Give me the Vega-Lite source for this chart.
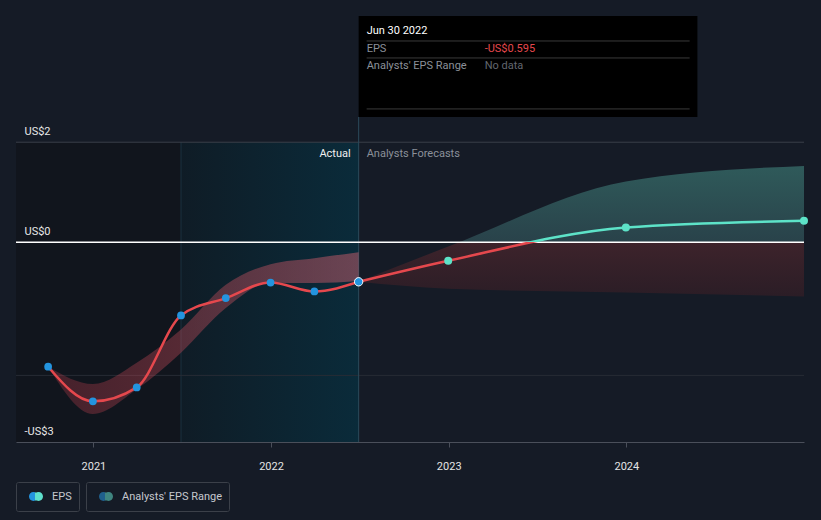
{
  "$schema": "https://vega.github.io/schema/vega-lite/v6.json",
  "width": 788,
  "height": 433,
  "autosize": {"type": "none"},
  "padding": {"left": 16, "top": 9, "right": 17, "bottom": 78},
  "background": "#151b26",
  "config": {"view": {"stroke": null}, "font": "Roboto", "text": {"font": "Roboto"}, "axis": {"titleOpacity": 0}},
  "datasets": {
    "eps": [
      {"date": "2020-09-30", "eps": -1.87, "kind": "actual"},
      {"date": "2020-12-31", "eps": -2.39, "kind": "actual"},
      {"date": "2021-03-31", "eps": -2.18, "kind": "actual"},
      {"date": "2021-06-30", "eps": -1.10, "kind": "actual"},
      {"date": "2021-09-30", "eps": -0.84, "kind": "actual"},
      {"date": "2021-12-31", "eps": -0.606, "kind": "actual"},
      {"date": "2022-03-31", "eps": -0.74, "kind": "actual"},
      {"date": "2022-06-30", "eps": -0.595, "kind": "latest"},
      {"date": "2022-12-31", "eps": -0.28, "kind": "forecast"},
      {"date": "2023-12-31", "eps": 0.22, "kind": "forecast"},
      {"date": "2024-12-31", "eps": 0.32, "kind": "forecast"}
    ],
    "pastRange": [
      {"date": "2020-09-30", "lo": -1.87, "hi": -1.87},
      {"date": "2020-12-31", "lo": -2.58, "hi": -2.13},
      {"date": "2021-03-31", "lo": -2.21, "hi": -1.81},
      {"date": "2021-06-30", "lo": -1.66, "hi": -1.31},
      {"date": "2021-09-30", "lo": -0.99, "hi": -0.64},
      {"date": "2021-12-31", "lo": -0.61, "hi": -0.33},
      {"date": "2022-03-31", "lo": -0.615, "hi": -0.24},
      {"date": "2022-06-30", "lo": -0.585, "hi": -0.15}
    ],
    "fcRange": [
      {"date": "2022-06-30", "lo": -0.595, "hi": -0.595},
      {"date": "2022-12-31", "lo": -0.70, "hi": -0.066},
      {"date": "2023-12-31", "lo": -0.756, "hi": 0.91},
      {"date": "2024-12-31", "lo": -0.816, "hi": 1.145}
    ],
    "hover": [
      {"date": "2022-06-30", "title": "Jun 30 2022", "eps": "-US$0.595", "range": "No data"}
    ],
    "periods": [
      {"start": "2020-07-26", "end": "2021-06-30", "period": "past"},
      {"start": "2021-06-30", "end": "2022-06-30", "period": "actual"}
    ]
  },
  "layer": [
    {
      "data": {"name": "periods"},
      "transform": [{"filter": "datum.period == 'past'"}],
      "mark": {"type": "rect", "color": "#11151d"},
      "encoding": {
        "x": {"field": "start", "type": "temporal", "title": null,
          "scale": {"domain": [{"year": 2020, "month": 7, "date": 26}, {"year": 2024, "month": 12, "date": 31}]},
          "axis": {"values": [{"year": 2021}, {"year": 2022}, {"year": 2023}, {"year": 2024}], "format": "%Y", "title": null, "grid": false,
            "domainColor": "#4a4f5a", "tickColor": "#4a4f5a", "tickSize": 5, "labelColor": "#e4e4e4", "labelFontSize": 11,
            "labelPadding": 13, "labelFlush": false, "zindex": 1}},
        "x2": {"field": "end"},
        "y": {"datum": -3, "type": "quantitative", "title": null,
          "scale": {"domain": [-3, 3.5], "nice": false, "zero": false},
          "axis": {"values": [-3, 0, 1.5], "labelExpr": "datum.value == 1.5 ? 'US$2' : datum.value == 0 ? 'US$0' : '-US$3'",
            "title": null, "grid": false, "domain": false, "ticks": false, "tickSize": 0, "labelAlign": "left", "labelPadding": -8,
            "labelBaseline": "alphabetic", "labelOffset": -8, "labelColor": "#e8e8e8", "labelFontSize": 11, "labelFlush": false, "zindex": 1}},
        "y2": {"datum": 1.5}
      }
    },
    {
      "data": {"name": "periods"},
      "transform": [{"filter": "datum.period == 'actual'"}],
      "mark": {"type": "rect", "color": {"gradient": "linear", "x1": 0, "y1": 0, "x2": 1, "y2": 0,
        "stops": [{"offset": 0, "color": "#0f1c26"}, {"offset": 1, "color": "#0a2b3a"}]}},
      "encoding": {
        "x": {"field": "start", "type": "temporal", "title": null},
        "x2": {"field": "end"},
        "y": {"datum": -3, "type": "quantitative", "title": null},
        "y2": {"datum": 1.5}
      }
    },
    {
      "data": {"name": "periods"},
      "transform": [{"filter": "datum.period == 'actual'"}],
      "mark": {"type": "rule", "color": "#1c3340", "strokeWidth": 1},
      "encoding": {
        "x": {"field": "start", "type": "temporal", "title": null},
        "y": {"datum": -3, "type": "quantitative", "title": null},
        "y2": {"datum": 1.5}
      }
    },
    {
      "data": {"values": [{}]},
      "mark": {"type": "rule", "color": "#3a3f48", "strokeWidth": 1},
      "encoding": {"y": {"datum": 1.5, "type": "quantitative", "title": null}}
    },
    {
      "data": {"values": [{}]},
      "mark": {"type": "rule", "color": "#272c35", "strokeWidth": 1},
      "encoding": {"y": {"datum": -2, "type": "quantitative", "title": null}}
    },
    {
      "data": {"name": "hover"},
      "mark": {"type": "rule", "color": "#2a4a5a", "strokeWidth": 1},
      "encoding": {
        "x": {"field": "date", "type": "temporal", "title": null},
        "y": {"datum": -3, "type": "quantitative", "title": null},
        "y2": {"datum": 1.879}
      }
    },
    {
      "data": {"name": "pastRange"},
      "mark": {"type": "area", "interpolate": "monotone", "color": {"gradient": "linear", "x1": 0, "y1": 0, "x2": 1, "y2": 0,
        "stops": [{"offset": 0, "color": "rgba(190,60,75,0.30)"}, {"offset": 1, "color": "rgba(225,100,115,0.45)"}]}},
      "encoding": {
        "x": {"field": "date", "type": "temporal", "title": null},
        "y": {"field": "hi", "type": "quantitative", "title": null},
        "y2": {"field": "lo"}
      }
    },
    {
      "data": {"name": "fcRange"},
      "mark": {"type": "area", "interpolate": "monotone", "color": {"gradient": "linear", "x1": 0, "y1": 0, "x2": 0, "y2": 1,
        "stops": [{"offset": 0, "color": "#2f5a5a"}, {"offset": 0.584, "color": "#29424a"}, {"offset": 0.584, "color": "#3d232b"}, {"offset": 1, "color": "#2b1d26"}]}},
      "encoding": {
        "x": {"field": "date", "type": "temporal", "title": null},
        "y": {"field": "hi", "type": "quantitative", "title": null},
        "y2": {"field": "lo"}
      }
    },
    {
      "data": {"values": [{}]},
      "mark": {"type": "rule", "color": "#ffffff", "strokeWidth": 1.5},
      "encoding": {"y": {"datum": 0, "type": "quantitative", "title": null}}
    },
    {
      "data": {"name": "eps"},
      "transform": [{"filter": "datum.kind != 'forecast'"}],
      "mark": {"type": "line", "interpolate": "monotone", "color": "#e5484d", "strokeWidth": 2.5},
      "encoding": {
        "x": {"field": "date", "type": "temporal", "title": null},
        "y": {"field": "eps", "type": "quantitative", "title": null}
      }
    },
    {
      "data": {"name": "eps"},
      "transform": [{"filter": "datum.kind != 'actual'"}],
      "mark": {"type": "line", "interpolate": "monotone", "strokeWidth": 2.5, "color": {"gradient": "linear", "x1": 0, "y1": 0, "x2": 0, "y2": 1,
        "stops": [{"offset": 0, "color": "#5de3c8"}, {"offset": 0.35, "color": "#5de3c8"}, {"offset": 0.35, "color": "#e5484d"}, {"offset": 1, "color": "#e5484d"}]}},
      "encoding": {
        "x": {"field": "date", "type": "temporal", "title": null},
        "y": {"field": "eps", "type": "quantitative", "title": null}
      }
    },
    {
      "data": {"name": "eps"},
      "transform": [{"filter": "datum.kind == 'actual'"}],
      "mark": {"type": "point", "filled": true, "opacity": 1, "color": "#2394df", "size": 60},
      "encoding": {
        "x": {"field": "date", "type": "temporal", "title": null},
        "y": {"field": "eps", "type": "quantitative", "title": null}
      }
    },
    {
      "data": {"name": "eps"},
      "transform": [{"filter": "datum.kind == 'latest'"}],
      "mark": {"type": "point", "filled": true, "opacity": 1, "fill": "#2394df", "stroke": "#ffffff", "strokeWidth": 1, "size": 70},
      "encoding": {
        "x": {"field": "date", "type": "temporal", "title": null},
        "y": {"field": "eps", "type": "quantitative", "title": null}
      }
    },
    {
      "data": {"name": "eps"},
      "transform": [{"filter": "datum.kind == 'forecast'"}],
      "mark": {"type": "point", "filled": true, "opacity": 1, "color": "#5de3c8", "size": 64},
      "encoding": {
        "x": {"field": "date", "type": "temporal", "title": null},
        "y": {"field": "eps", "type": "quantitative", "title": null}
      }
    },
    {
      "data": {"name": "hover"},
      "mark": {"type": "text", "text": "Actual", "align": "right", "baseline": "middle", "dx": -8, "dy": 12, "fontSize": 11, "color": "#f0f0f0"},
      "encoding": {
        "x": {"field": "date", "type": "temporal", "title": null},
        "y": {"datum": 1.5, "type": "quantitative", "title": null}
      }
    },
    {
      "data": {"name": "hover"},
      "mark": {"type": "text", "text": "Analysts Forecasts", "align": "left", "baseline": "middle", "dx": 8, "dy": 12, "fontSize": 11, "color": "#8b9099"},
      "encoding": {
        "x": {"field": "date", "type": "temporal", "title": null},
        "y": {"datum": 1.5, "type": "quantitative", "title": null}
      }
    },
    {
      "data": {"name": "hover"},
      "mark": {"type": "rect", "color": "#000000"},
      "encoding": {
        "x": {"field": "date", "type": "temporal", "title": null},
        "x2": {"datum": {"year": 2024, "month": 5, "date": 26}},
        "y": {"datum": 3.394, "type": "quantitative", "title": null},
        "y2": {"datum": 1.879}
      }
    },
    {
      "data": {"name": "hover"},
      "mark": {"type": "rule", "color": "#3a3a3a", "strokeWidth": 1, "xOffset": 8},
      "encoding": {
        "x": {"field": "date", "type": "temporal", "title": null},
        "x2": {"datum": {"year": 2024, "month": 5, "date": 10}},
        "y": {"datum": 3.02, "type": "quantitative", "title": null}
      }
    },
    {
      "data": {"name": "hover"},
      "mark": {"type": "rule", "color": "#3a3a3a", "strokeWidth": 1, "xOffset": 8},
      "encoding": {
        "x": {"field": "date", "type": "temporal", "title": null},
        "x2": {"datum": {"year": 2024, "month": 5, "date": 10}},
        "y": {"datum": 2.765, "type": "quantitative", "title": null}
      }
    },
    {
      "data": {"name": "hover"},
      "mark": {"type": "rule", "color": "#3a3a3a", "strokeWidth": 1, "xOffset": 8},
      "encoding": {
        "x": {"field": "date", "type": "temporal", "title": null},
        "x2": {"datum": {"year": 2024, "month": 5, "date": 10}},
        "y": {"datum": 2.0, "type": "quantitative", "title": null}
      }
    },
    {
      "data": {"name": "hover"},
      "mark": {"type": "text", "align": "left", "baseline": "middle", "dx": 8, "fontSize": 11, "color": "#ffffff"},
      "encoding": {
        "x": {"field": "date", "type": "temporal", "title": null},
        "y": {"datum": 3.17, "type": "quantitative", "title": null},
        "text": {"field": "title"}
      }
    },
    {
      "data": {"name": "hover"},
      "mark": {"type": "text", "text": "EPS", "align": "left", "baseline": "middle", "dx": 8, "fontSize": 11, "color": "#8b9099"},
      "encoding": {
        "x": {"field": "date", "type": "temporal", "title": null},
        "y": {"datum": 2.90, "type": "quantitative", "title": null}
      }
    },
    {
      "data": {"name": "hover"},
      "mark": {"type": "text", "align": "left", "baseline": "middle", "dx": 126, "fontSize": 11, "color": "#e5484d"},
      "encoding": {
        "x": {"field": "date", "type": "temporal", "title": null},
        "y": {"datum": 2.90, "type": "quantitative", "title": null},
        "text": {"field": "eps"}
      }
    },
    {
      "data": {"name": "hover"},
      "mark": {"type": "text", "text": "Analysts' EPS Range", "align": "left", "baseline": "middle", "dx": 8, "fontSize": 11, "color": "#8b9099"},
      "encoding": {
        "x": {"field": "date", "type": "temporal", "title": null},
        "y": {"datum": 2.645, "type": "quantitative", "title": null}
      }
    },
    {
      "data": {"name": "hover"},
      "mark": {"type": "text", "align": "left", "baseline": "middle", "dx": 126, "fontSize": 11, "color": "#62676f"},
      "encoding": {
        "x": {"field": "date", "type": "temporal", "title": null},
        "y": {"datum": 2.645, "type": "quantitative", "title": null},
        "text": {"field": "range"}
      }
    },
    {
      "data": {"values": [{"series": "EPS"}]},
      "mark": {"type": "point", "filled": true, "opacity": 0, "color": {"gradient": "linear", "x1": 0, "y1": 0, "x2": 1, "y2": 0,
        "stops": [{"offset": 0, "color": "#2394df"}, {"offset": 0.42, "color": "#2394df"}, {"offset": 0.42, "color": "#5ee0cc"}, {"offset": 1, "color": "#5ee0cc"}]}},
      "encoding": {
        "shape": {"field": "series", "type": "nominal",
          "scale": {"range": ["M-1,0A0.64,0.64,0,1,1,0.28,0A0.64,0.64,0,1,1,-1,0ZM-0.28,0A0.64,0.64,0,1,1,1,0A0.64,0.64,0,1,1,-0.28,0Z"]},
          "legend": {"orient": "none", "legendX": 0, "legendY": 473, "title": null, "padding": 6.5, "strokeColor": "#3b4049", "cornerRadius": 2,
            "symbolSize": 196, "symbolOpacity": 1, "symbolOffset": 5.5, "labelOffset": 8, "labelColor": "#c5c8ce", "labelFontSize": 11, "labelFont": "Roboto"}}
      }
    },
    {
      "data": {"values": [{"series": "Analysts' EPS Range"}]},
      "mark": {"type": "point", "filled": true, "opacity": 0, "color": {"gradient": "linear", "x1": 0, "y1": 0, "x2": 1, "y2": 0,
        "stops": [{"offset": 0, "color": "#1f5f8c"}, {"offset": 0.42, "color": "#1f5f8c"}, {"offset": 0.42, "color": "#3f8580"}, {"offset": 1, "color": "#3f8580"}]}},
      "encoding": {
        "shape": {"field": "series", "type": "nominal",
          "scale": {"range": ["M-1,0A0.64,0.64,0,1,1,0.28,0A0.64,0.64,0,1,1,-1,0ZM-0.28,0A0.64,0.64,0,1,1,1,0A0.64,0.64,0,1,1,-0.28,0Z"]},
          "legend": {"orient": "none", "legendX": 70, "legendY": 473, "title": null, "padding": 6.5, "strokeColor": "#3b4049", "cornerRadius": 2,
            "symbolSize": 196, "symbolOpacity": 1, "symbolOffset": 5.5, "labelOffset": 8, "labelColor": "#c5c8ce", "labelFontSize": 11, "labelFont": "Roboto"}}
      }
    }
  ],
  "resolve": {"scale": {"shape": "independent"}, "legend": {"shape": "independent"}}
}
